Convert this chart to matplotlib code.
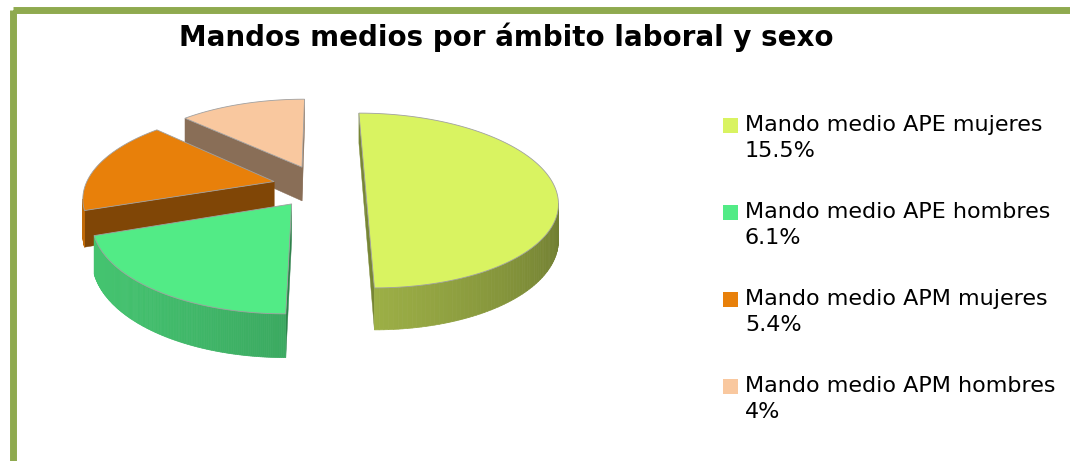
import numpy as np
import matplotlib.pyplot as plt
from matplotlib.patches import Polygon, Rectangle
from matplotlib.colors import to_rgb

title = "Mandos medios por ámbito laboral y sexo"
labels = ["Mando medio APE mujeres", "Mando medio APE hombres",
          "Mando medio APM mujeres", "Mando medio APM hombres"]
values = [15.5, 6.1, 5.4, 4]
colors = ["#d9f361", "#52eb86", "#e8800a", "#f9c89f"]
explode = [0.24, 0.25, 0.25, 0.25]

W, H = 1070, 461
fig = plt.figure(figsize=(W / 100, H / 100), dpi=100)
ax = fig.add_axes([0, 0, 1, 1])
ax.set_xlim(0, W)
ax.set_ylim(H, 0)
ax.axis('off')

# green frame around the chart (runs off the right and bottom edges)
ax.add_patch(Rectangle((12.5, 10.5), 1200, 600, fill=False, ec='#8faa4f', lw=5))

# pseudo-3D pie: disk in unit coords, projected with a bit of perspective
x0, y0 = 320, 186      # screen position of the pie centre
A, B = 189, 85         # horizontal / vertical radius in px
p = 0.166              # perspective strength (back smaller than front)
D = 35                 # thickness in px
cam = np.array([0.0, -1 / p])  # viewer position in disk coords


def proj(X, Y, z=0):
    w = 1 + p * Y
    return x0 + A * X / w, y0 + (D * z - B * Y) / w


def shade(c, f):
    return tuple(np.clip(np.array(to_rgb(c)) * f, 0, 1))


fracs = np.array(values) / sum(values)
ends = np.pi / 2 - 2 * np.pi * np.cumsum(fracs)  # clockwise from 12 o'clock
starts = np.concatenate([[np.pi / 2], ends[:-1]])

slices = []
for i in range(len(values)):
    t1, t2 = ends[i], starts[i]
    mid = (t1 + t2) / 2
    vx, vy = explode[i] * np.cos(mid), explode[i] * np.sin(mid)
    slices.append((-vy, i, t1, t2, vx, vy))

for _, i, t1, t2, vx, vy in sorted(slices):
    col = colors[i]
    V = np.array([vx, vy])

    def rim(t, z=0):
        return proj(vx + np.cos(t), vy + np.sin(t), z)

    # cut faces (outward normals point away from the slice)
    for t, sgn in [(t1, -1), (t2, 1)]:
        n = sgn * np.array([-np.sin(t), np.cos(t)])
        if np.dot(cam - V, n) > 0:
            quad = [proj(vx, vy), rim(t), rim(t, 1), proj(vx, vy, 1)]
            ax.add_patch(Polygon(quad, closed=True, fc=shade(col, 0.55),
                                 ec=shade(col, 0.55), lw=0.3))

    # outer wall, only where it faces the viewer
    ts = np.linspace(t1, t2, 150)
    for a, b in zip(ts[:-1], ts[1:]):
        m = (a + b) / 2
        P = V + np.array([np.cos(m), np.sin(m)])
        n = np.array([np.cos(m), np.sin(m)])
        if np.dot(cam - P, n) > 0:
            f = 0.66 + 0.16 * (-np.cos(m)) + 0.06 * (-np.sin(m))
            quad = [rim(a), rim(b), rim(b, 1), rim(a, 1)]
            ax.add_patch(Polygon(quad, closed=True, fc=shade(col, f),
                                 ec=shade(col, f), lw=0.5))

    # top face
    top = [proj(vx, vy)] + [rim(t) for t in ts]
    ax.add_patch(Polygon(top, closed=True, fc=col, ec='#a0a0a0', lw=0.6))

ax.text(506, 37, title, ha='center', va='center', fontsize=20,
        fontweight='bold', color='black')

# legend
for i, (lab, v) in enumerate(zip(labels, values)):
    ly = 125 + 87 * i
    ax.add_patch(Rectangle((723, ly - 7.5), 15, 15, fc=colors[i], ec='none'))
    ax.text(745, ly, lab, ha='left', va='center', fontsize=16, color='black')
    ax.text(745, ly + 26, f"{v:g}%", ha='left', va='center', fontsize=16,
            color='black')

fig.savefig('out.png', dpi=100)
